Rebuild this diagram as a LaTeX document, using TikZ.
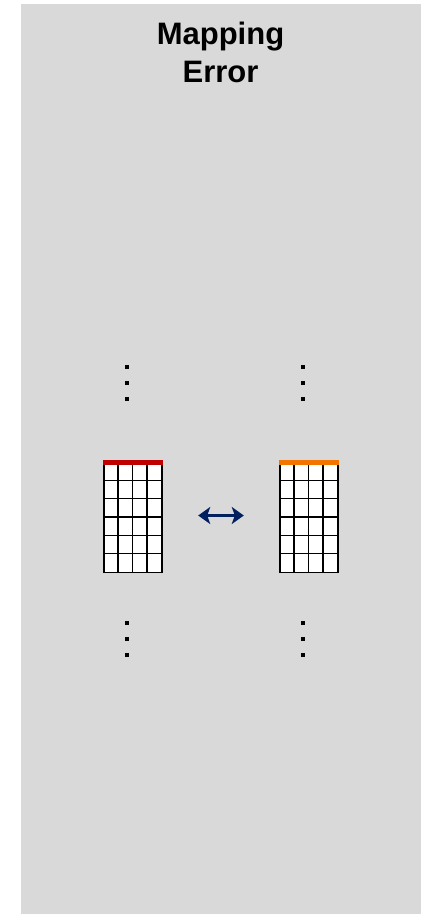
\documentclass[tikz,border=0pt]{standalone}
\usepackage{fontspec}
\setmainfont{Liberation Sans}
\usetikzlibrary{arrows.meta,calc}
\definecolor{bg}{HTML}{D9D9D9}
\definecolor{navy}{HTML}{002060}
\definecolor{hdrred}{HTML}{C00000}
\definecolor{hdrorange}{HTML}{F27500}
\tikzset{
  title/.style={font=\fontsize{31}{37}\selectfont\bfseries, inner sep=0pt, anchor=base},
  tablebox/.style={draw=black, line width=1.4pt, fill=white, minimum width=58pt, minimum height=110pt, inner sep=0pt, anchor=north west},
  gridline/.style={line width=1.4pt, black},
  hdr/.style={line width=4.5pt},
  vdot/.style={rectangle, fill=black, minimum size=4pt, inner sep=0pt},
  maparrow/.style={{Stealth[length=12pt,width=17pt,inset=3pt]}-{Stealth[length=12pt,width=17pt,inset=3pt]}, navy, line width=2.5pt}
}
\begin{document}
\begin{tikzpicture}[x=1pt,y=-1pt]
\useasboundingbox (0,0) rectangle (421,914);
\fill[bg] (21,4) rectangle (421,914);
\node[title] (t1) at (220.5,44) {Mapping};
\node[title] (t2) at (220.5,82) {Error};
% tables
\node[tablebox] (L) at (103.3,462) {};
\node[tablebox] (R) at (279.3,462) {};
\foreach \tb in {L,R}{
  \foreach \i in {1,2,3}{
    \draw[gridline] ($(\tb.north west)+(\i*14.5,0)$) -- ($(\tb.south west)+(\i*14.5,0)$);
  }
  \foreach \j in {1,...,5}{
    \draw[gridline] ($(\tb.north west)+(0,\j*18.333)$) -- ($(\tb.north east)+(0,\j*18.333)$);
  }
}
\draw[hdr,hdrred] ($(L.north west)+(0,0.3)$) -- ($(L.north east)+(0,0.3)$);
\draw[hdr,hdrorange] ($(R.north west)+(0,0.3)$) -- ($(R.north east)+(0,0.3)$);
% arrow
\draw[maparrow, shorten <=35.5pt, shorten >=35.5pt] (L.east |- 0,515.5) -- (R.west |- 0,515.5);
% dots
\foreach \x/\n in {126.7/a,302.7/b}{
  \foreach \y/\m in {366.7/1,382.7/2,398.7/3,622.7/4,638.7/5,654.7/6}{
    \node[vdot] (d\n\m) at (\x,\y) {};
  }
}
\end{tikzpicture}
\end{document}
